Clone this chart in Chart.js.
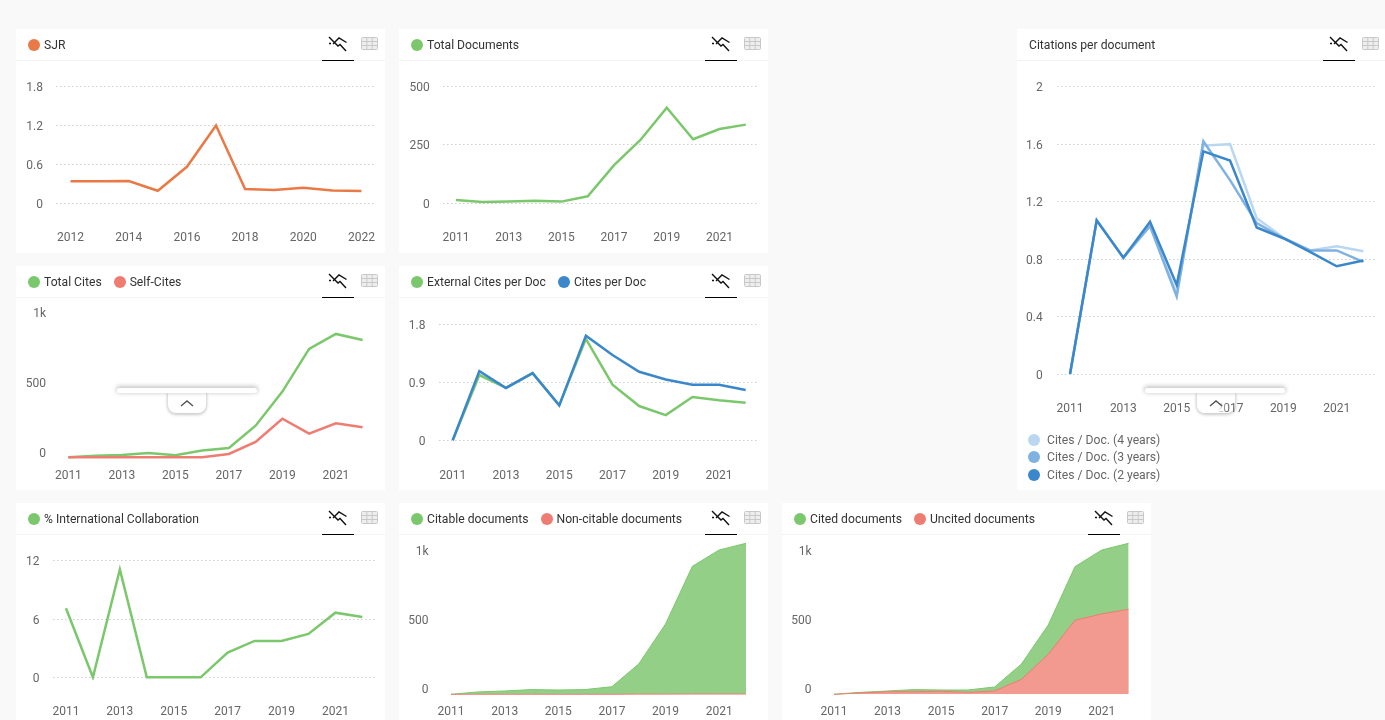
<!DOCTYPE html>
<html>
<head>
<meta charset="utf-8">
<title>Journal indicators</title>
<script src="https://cdn.jsdelivr.net/npm/chart.js@4"></script>
<style>
html,body{margin:0;padding:0;width:1385px;height:720px;overflow:hidden;background:#f9f9f9;font-family:Roboto,sans-serif;}
.card{position:absolute;background:#fff;overflow:hidden;}
.card canvas{position:absolute;left:0;top:0;}
.head{position:absolute;left:0;right:0;top:0;height:30px;padding-top:1px;border-bottom:1px solid #f3f3f3;display:flex;align-items:center;padding-left:12px;font-size:12.15px;color:#333;}
.head i{display:inline-block;width:12px;height:12px;border-radius:50%;margin-right:4px;}
.head span{margin-right:12px;}
.tab{position:absolute;left:306px;top:31px;width:32px;height:1px;background:#000;}
.icon{position:absolute;left:312px;top:7px;}
.grid{position:absolute;left:345px;top:8px;}
.legend3{position:absolute;left:11px;font-size:12.15px;color:#666;line-height:14px;display:flex;align-items:center;}
.legend3 i{display:inline-block;width:12px;height:12px;border-radius:50%;margin-right:7px;}
.bar{position:absolute;height:5px;background:#fff;border-radius:3px;box-shadow:0 -1px 4px 1px rgba(0,0,0,.22);z-index:6;}
.btn{position:absolute;width:38px;height:20px;background:#fff;border-radius:0 0 8px 8px;box-shadow:0 1px 3px 1px rgba(0,0,0,.2);z-index:5;}
.btn.fade{background:linear-gradient(to right,#fff 55%,rgba(255,255,255,0) 80%);}
.btn svg{position:absolute;left:11px;top:5px;}
</style>
</head>
<body>
<script>
// years
const years = ['2011','2012','2013','2014','2015','2016','2017','2018','2019','2020','2021','2022'];
const sjrYears = ['2012','2013','2014','2015','2016','2017','2018','2019','2020','2021','2022'];

// series
const sjr = [0.335,0.337,0.34,0.19,0.56,1.2,0.215,0.2,0.235,0.195,0.185];
const totalDocs = [13,4,6,10,6,29,163,271,410,274,318,337];
const totalCites = [0,12,17,31,14,48,67,227,471,778,885,842];
const selfCites = [0,0,0,0,0,0,24,110,277,170,244,215];
const externalPerDoc = [0,1.01,0.81,1.04,0.54,1.57,0.86,0.53,0.39,0.67,0.62,0.58];
const citesPerDoc = [0,1.07,0.81,1.04,0.54,1.62,1.32,1.06,0.94,0.86,0.86,0.78];
const cites4y = [0,1.07,0.81,1.03,0.56,1.59,1.6,1.085,0.95,0.86,0.89,0.855];
const cites3y = [0,1.07,0.81,1.03,0.54,1.62,1.35,1.05,0.945,0.86,0.86,0.78];
const cites2y = [0,1.07,0.81,1.06,0.62,1.55,1.486,1.02,0.945,0.85,0.75,0.79];
const intlCollab = [7.1,0,11.1,0,0,0,2.54,3.74,3.74,4.46,6.65,6.2];
const citable = [0,17,24,34,31,34,55,219,507,923,1041,1089];
const nonCitable = [0,0,0,0,0,0,0,1,1,2,2,2];
const cited = [0,14,24,34,31,31,53,219,500,921,1041,1089];
const uncited = [0,10,19,19,22,14,24,108,288,534,580,613];

// y axis ticks
const ticksSjr = [0,0.6,1.2,1.8];
const ticksDocs = [0,250,500];
const ticksK = [0,500,1000];
const ticksPerDoc = [0,0.9,1.8];
const ticksCites = [0,0.4,0.8,1.2,1.6,2];
const ticksIntl = [0,6,12];

const GREEN='#7bc86c', RED='#ef7c72', ORANGE='#ea7a45', BLUE='#3b87cc', BLUE3='#7fb2e2', BLUE4='#b9d7f0';
const GREEN_FILL='#93cf87', RED_FILL='#f29a90';

const lineIcon = '<svg class="icon" width="20" height="17" viewBox="0 0 20 17" fill="none" stroke="#111" stroke-width="1.4">'
  +'<path d="M1 1 L10 10 L12 8.5 L18 15"/><path d="M1 7.5 L3 7.5 M5 8 L11 2 L18.5 6.5"/></svg>';
const gridIcon = '<svg class="grid" width="18" height="14" viewBox="0 0 18 14" fill="#eee" stroke="#c8c8c8" stroke-width="1">'
  +'<rect x="0.5" y="0.5" width="16" height="12" rx="1"/><path d="M0.5 4.5H16.5M0.5 8.5H16.5M5.8 0.5V12.5M11.2 0.5V12.5"/></svg>';

function addCard(x, y, w, h, legendItems){
  const card = document.createElement('div');
  card.className = 'card';
  card.style.cssText = `left:${x}px;top:${y}px;width:${w}px;height:${h}px`;
  const cv = document.createElement('canvas');
  cv.width = w; cv.height = h;
  card.appendChild(cv);
  const head = document.createElement('div');
  head.className = 'head';
  head.innerHTML = legendItems.map(l => (l.color ? `<i style="background:${l.color}"></i>` : '') + `<span>${l.text}</span>`).join('');
  card.appendChild(head);
  card.insertAdjacentHTML('beforeend', lineIcon + gridIcon + '<div class="tab"></div>');
  document.body.appendChild(card);
  return {card, cv};
}

function drawChart(box, o){
  const {cv} = addCard(box.x, box.y, box.w, box.h, o.legend);
  new Chart(cv, {
    type: 'line',
    data: {
      labels: o.labels,
      datasets: o.series.map((s, i) => ({
        label: s.name,
        data: s.data,
        borderColor: s.color,
        borderWidth: s.fill ? 1 : 2.5,
        backgroundColor: s.fill || 'transparent',
        fill: s.fill ? 'origin' : false,
        pointRadius: 0,
        tension: 0,
        clip: 3,
        order: o.series.length - i
      }))
    },
    options: {
      responsive: false,
      animation: false,
      layout: {
        autoPadding: false,
        padding: {left: 0, right: box.x + box.w - o.plot.r, top: o.plot.t - box.y, bottom: 0}
      },
      plugins: {legend: {display: false}, tooltip: {enabled: false}},
      scales: {
        x: {
          offset: true,
          // tickLength pushes the labels down, big ticks.padding would shrink the plot
          grid: {display: false, drawTicks: true, tickLength: o.xPad},
          border: {display: false},
          afterFit: s => { s.height = box.y + box.h - o.plot.b; },
          ticks: {
            autoSkip: false, maxRotation: 0, padding: 0,
            color: '#666', font: {family: 'Roboto', size: 12},
            callback: function(v, i){ return i % 2 === 0 ? this.getLabelForValue(v) : ''; }
          }
        },
        y: {
          min: 0, max: o.max,
          afterFit: s => { s.width = o.plot.l - box.x; },
          afterBuildTicks: s => { s.ticks = o.ticks.map(v => ({value: v})); },
          grid: {display: o.grid, color: '#cfcfcf', drawTicks: false},
          border: {display: false, dash: [1.5,2.5]},
          ticks: {
            padding: o.yPad, labelOffset: (o.labelOffset || 0) + 1.5,
            color: '#666', font: {family: 'Roboto', size: 12},
            callback: v => v >= 1000 ? (v / 1000) + 'k' : v
          }
        }
      }
    }
  });
}

drawChart({x:16,y:29,w:369,h:224}, {
  labels: sjrYears, ticks: ticksSjr, max: 1.8, grid: true, xPad: 28, yPad: 13,
  plot: {l:56,r:376,t:86.7,b:203},
  legend: [{color:ORANGE,text:'SJR'}],
  series: [{name:'SJR',data:sjr,color:ORANGE}]
});
drawChart({x:399,y:29,w:369,h:224}, {
  labels: years, ticks: ticksDocs, max: 500, grid: true, xPad: 28, yPad: 13,
  plot: {l:442.8,r:759,t:86.7,b:203},
  legend: [{color:GREEN,text:'Total Documents'}],
  series: [{name:'Total Documents',data:totalDocs,color:GREEN}]
});
drawChart({x:1017,y:29,w:368,h:461}, {
  labels: years, ticks: ticksCites, max: 2, grid: true, xPad: 28, yPad: 14,
  plot: {l:1056.7,r:1376.7,t:86.7,b:374},
  legend: [{text:'Citations per document'}],
  series: [
    {name:'Cites / Doc. (4 years)',data:cites4y,color:BLUE4},
    {name:'Cites / Doc. (3 years)',data:cites3y,color:BLUE3},
    {name:'Cites / Doc. (2 years)',data:cites2y,color:BLUE}
  ]
});
drawChart({x:16,y:266,w:369,h:224}, {
  labels: years, ticks: ticksK, max: 1000, grid: false, xPad: 11, yPad: 9, labelOffset: -5,
  plot: {l:55,r:376,t:317.9,b:457.3},
  legend: [{color:GREEN,text:'Total Cites'},{color:RED,text:'Self-Cites'}],
  series: [{name:'Total Cites',data:totalCites,color:GREEN},{name:'Self-Cites',data:selfCites,color:RED}]
});
drawChart({x:399,y:266,w:369,h:224}, {
  labels: years, ticks: ticksPerDoc, max: 1.8, grid: true, xPad: 28, yPad: 14,
  plot: {l:439.4,r:759,t:324,b:440.3},
  legend: [{color:GREEN,text:'External Cites per Doc'},{color:BLUE,text:'Cites per Doc'}],
  series: [{name:'External Cites per Doc',data:externalPerDoc,color:GREEN},{name:'Cites per Doc',data:citesPerDoc,color:BLUE}]
});
drawChart({x:16,y:503,w:369,h:217}, {
  labels: years, ticks: ticksIntl, max: 12, grid: true, xPad: 27, yPad: 13,
  plot: {l:52.5,r:375.8,t:560.7,b:677.3},
  legend: [{color:GREEN,text:'% International Collaboration'}],
  series: [{name:'% International Collaboration',data:intlCollab,color:GREEN}]
});
drawChart({x:399,y:503,w:369,h:217}, {
  labels: years, ticks: ticksK, max: 1100, grid: false, xPad: 10, yPad: 9, labelOffset: -5.5,
  plot: {l:437.6,r:759.4,t:541.8,b:694.3},
  legend: [{color:GREEN,text:'Citable documents'},{color:RED,text:'Non-citable documents'}],
  series: [
    {name:'Citable documents',data:citable,color:GREEN,fill:GREEN_FILL},
    {name:'Non-citable documents',data:nonCitable,color:RED,fill:RED_FILL}
  ]
});
drawChart({x:782,y:503,w:369,h:217}, {
  labels: years, ticks: ticksK, max: 1100, grid: false, xPad: 10, yPad: 9, labelOffset: -5.5,
  plot: {l:820.6,r:1142,t:541.8,b:694.3},
  legend: [{color:GREEN,text:'Cited documents'},{color:RED,text:'Uncited documents'}],
  series: [
    {name:'Cited documents',data:cited,color:GREEN,fill:GREEN_FILL},
    {name:'Uncited documents',data:uncited,color:RED,fill:RED_FILL}
  ]
});

// legend under the citations chart
const citesCard = document.querySelectorAll('.card')[2];
[['Cites / Doc. (4 years)',BLUE4,404],['Cites / Doc. (3 years)',BLUE3,421],['Cites / Doc. (2 years)',BLUE,439]].forEach(l => {
  citesCard.insertAdjacentHTML('beforeend', `<div class="legend3" style="top:${l[2]}px"><i style="background:${l[1]}"></i>${l[0]}</div>`);
});

// collapse handles
function addHandle(barX, btnX, extra){
  document.body.insertAdjacentHTML('beforeend',
    `<div class="bar" style="left:${barX}px;top:388px;width:140px"></div>`
    +`<div class="btn ${extra}" style="left:${btnX}px;top:393px"><svg width="16" height="10" viewBox="0 0 16 10" fill="none" stroke="#555" stroke-width="1.4"><path d="M2 8 L8 3 L14 8"/></svg></div>`);
}
addHandle(117, 168, '');
addHandle(1145, 1197, 'fade');
</script>
</body>
</html>
